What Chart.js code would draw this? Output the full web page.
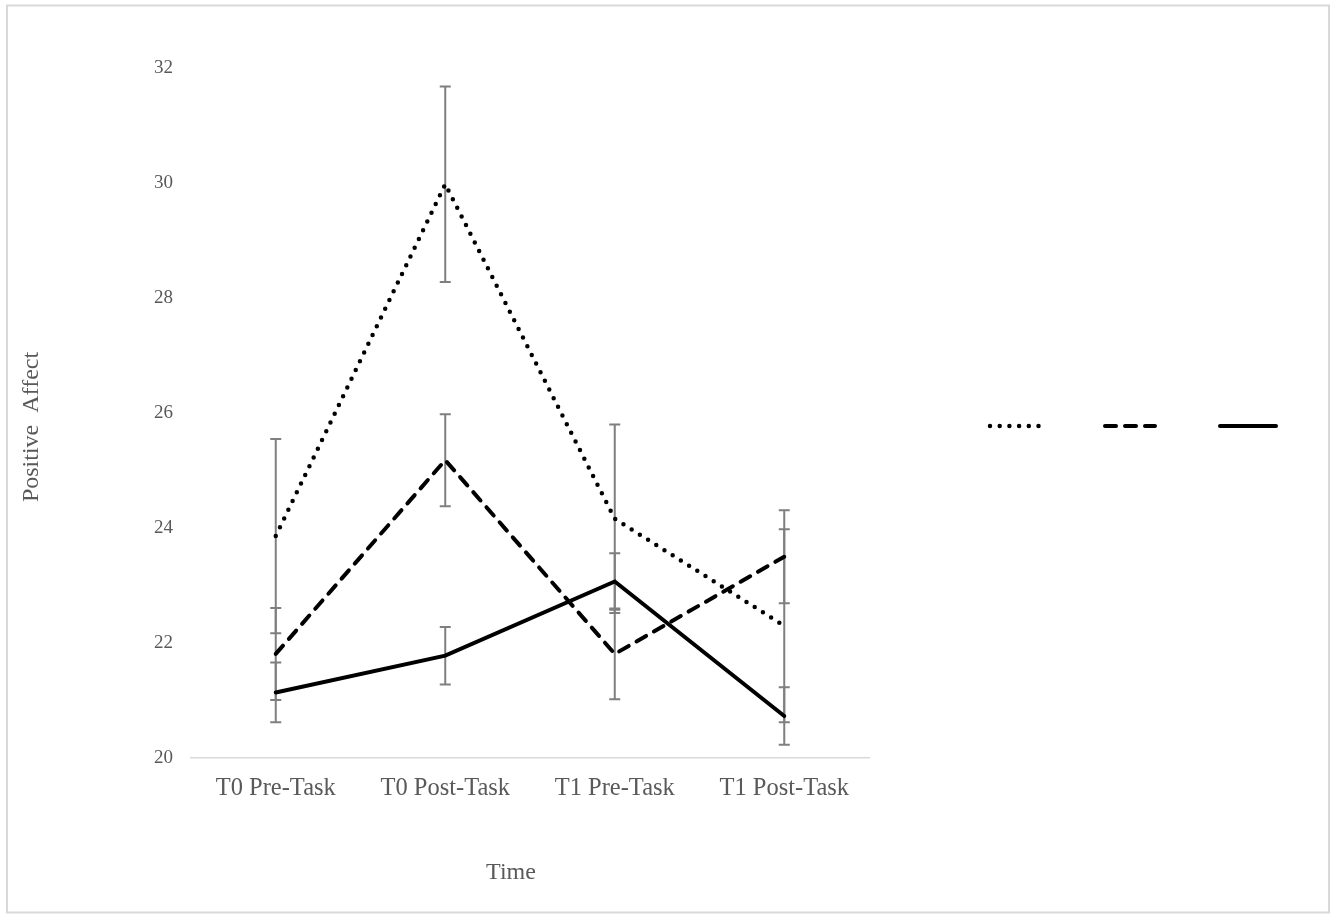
<!DOCTYPE html>
<html>
<head>
<meta charset="utf-8">
<script src="https://cdn.jsdelivr.net/npm/chart.js@4.4.1/dist/chart.umd.min.js"></script>
<style>
  body { margin: 0; background: #fff; }
  canvas { display: block; }
</style>
</head>
<body>
<canvas id="affectChart" width="1338" height="914"></canvas>
<script>
// Chart data
const timePoints = ['T0 Pre-Task', 'T0 Post-Task', 'T1 Pre-Task', 'T1 Post-Task'];
const dottedMeans = [23.86, 29.98, 24.16, 22.30];
const dottedErrors = [1.69, 1.70, 1.64, 1.68];
const dashedMeans = [21.81, 25.18, 21.81, 23.50];
const dashedErrors = [0.80, 0.80, 0.79, 0.81];
const solidMeans = [21.14, 21.78, 23.07, 20.73];
const solidErrors = [0.52, 0.50, 0.49, 0.50];
const yTicks = [20, 22, 24, 26, 28, 30, 32];
const xTitle = 'Time';
const yTitle = 'Positive  Affect';

const serif = "'Liberation Serif', 'Times New Roman', serif";
const textGray = '#595959';

// Frame around the whole picture
const framePlugin = {
    id: 'frame',
    beforeDraw(chart) {
        const ctx = chart.ctx;
        ctx.save();
        ctx.fillStyle = '#ffffff';
        ctx.fillRect(0, 0, chart.width, chart.height);
        ctx.strokeStyle = '#d9d9d9';
        ctx.lineWidth = 2;
        ctx.strokeRect(7, 5.5, 1322, 907);
        ctx.restore();
    }
};

// Vertical error bars behind the lines
const errorBarPlugin = {
    id: 'errorBars',
    beforeDatasetsDraw(chart) {
        const ctx = chart.ctx;
        const x = chart.scales.x;
        const y = chart.scales.y;
        ctx.save();
        ctx.strokeStyle = '#7f7f7f';
        ctx.lineWidth = 2;
        ctx.setLineDash([]);
        chart.data.datasets.forEach(ds => {
            ds.data.forEach((v, i) => {
                const e = ds.errors[i];
                const px = x.getPixelForValue(i);
                const top = y.getPixelForValue(v + e);
                const bot = y.getPixelForValue(v - e);
                ctx.beginPath();
                ctx.moveTo(px, top);
                ctx.lineTo(px, bot);
                ctx.moveTo(px - 5.5, top);
                ctx.lineTo(px + 5.5, top);
                ctx.moveTo(px - 5.5, bot);
                ctx.lineTo(px + 5.5, bot);
                ctx.stroke();
            });
        });
        ctx.restore();
    }
};

// Axis titles, placed like the original (centred on plot incl. tick labels)
const axisTitlePlugin = {
    id: 'axisTitles',
    afterDraw(chart) {
        const ctx = chart.ctx;
        const area = chart.chartArea;
        ctx.save();
        ctx.fillStyle = textGray;
        ctx.font = '24px ' + serif;
        ctx.textAlign = 'center';
        ctx.textBaseline = 'middle';
        ctx.fillText(xTitle, (area.left + area.right) / 2 - 19, 873);
        ctx.translate(32, (area.top + area.bottom) / 2 + 14);
        ctx.rotate(-Math.PI / 2);
        ctx.fillText(yTitle, 0, 0);
        ctx.restore();
    }
};

// Legend: line samples only, no text
const lineLegendPlugin = {
    id: 'lineLegend',
    afterDraw(chart, args, opts) {
        const ctx = chart.ctx;
        const area = chart.chartArea;
        ctx.save();
        chart.data.datasets.forEach((ds, i) => {
            const seg = opts.segments[i];
            ctx.strokeStyle = ds.borderColor;
            ctx.lineWidth = ds.borderWidth;
            ctx.lineCap = ds.borderCapStyle || 'butt';
            ctx.setLineDash(ds.borderDash || []);
            ctx.beginPath();
            ctx.moveTo(area.right + seg[0], opts.y);
            ctx.lineTo(area.right + seg[1], opts.y);
            ctx.stroke();
        });
        ctx.restore();
    }
};

new Chart(document.getElementById('affectChart').getContext('2d'), {
    type: 'line',
    data: {
        labels: timePoints,
        datasets: [
            {
                label: 'Dotted',
                data: dottedMeans,
                errors: dottedErrors,
                borderColor: '#000000',
                borderWidth: 4.5,
                borderDash: [0, 9.7],
                borderCapStyle: 'round',
                pointRadius: 0,
                tension: 0
            },
            {
                label: 'Dashed',
                data: dashedMeans,
                errors: dashedErrors,
                borderColor: '#000000',
                borderWidth: 4,
                borderDash: [11, 9],
                borderCapStyle: 'round',
                pointRadius: 0,
                tension: 0
            },
            {
                label: 'Solid',
                data: solidMeans,
                errors: solidErrors,
                borderColor: '#000000',
                borderWidth: 4,
                borderCapStyle: 'round',
                pointRadius: 0,
                tension: 0
            }
        ]
    },
    options: {
        responsive: false,
        animation: false,
        layout: {
            padding: { left: 14, right: 469, top: 68, bottom: 23 }
        },
        plugins: {
            legend: { display: false },
            tooltip: { enabled: false },
            lineLegend: {
                y: 426,
                segments: [[121, 171], [236, 286], [351, 407]]
            }
        },
        scales: {
            x: {
                offset: true,
                grid: { display: false, drawTicks: false },
                border: { display: true, color: '#d9d9d9', width: 1.5 },
                ticks: {
                    color: textGray,
                    padding: 16,
                    maxRotation: 0,
                    font: { family: serif, size: 24.5 }
                },
                title: { display: false },
                afterFit(scale) { scale.height = 133; }
            },
            y: {
                min: yTicks[0],
                max: yTicks[yTicks.length - 1],
                afterBuildTicks(scale) {
                    scale.ticks = yTicks.map(v => ({ value: v }));
                },
                grid: { display: false, drawTicks: false },
                border: { display: false },
                ticks: {
                    color: textGray,
                    padding: 18,
                    font: { family: serif, size: 19 }
                },
                title: { display: false },
                afterFit(scale) { scale.width = 177; }
            }
        }
    },
    plugins: [framePlugin, errorBarPlugin, axisTitlePlugin, lineLegendPlugin]
});
</script>
</body>
</html>
